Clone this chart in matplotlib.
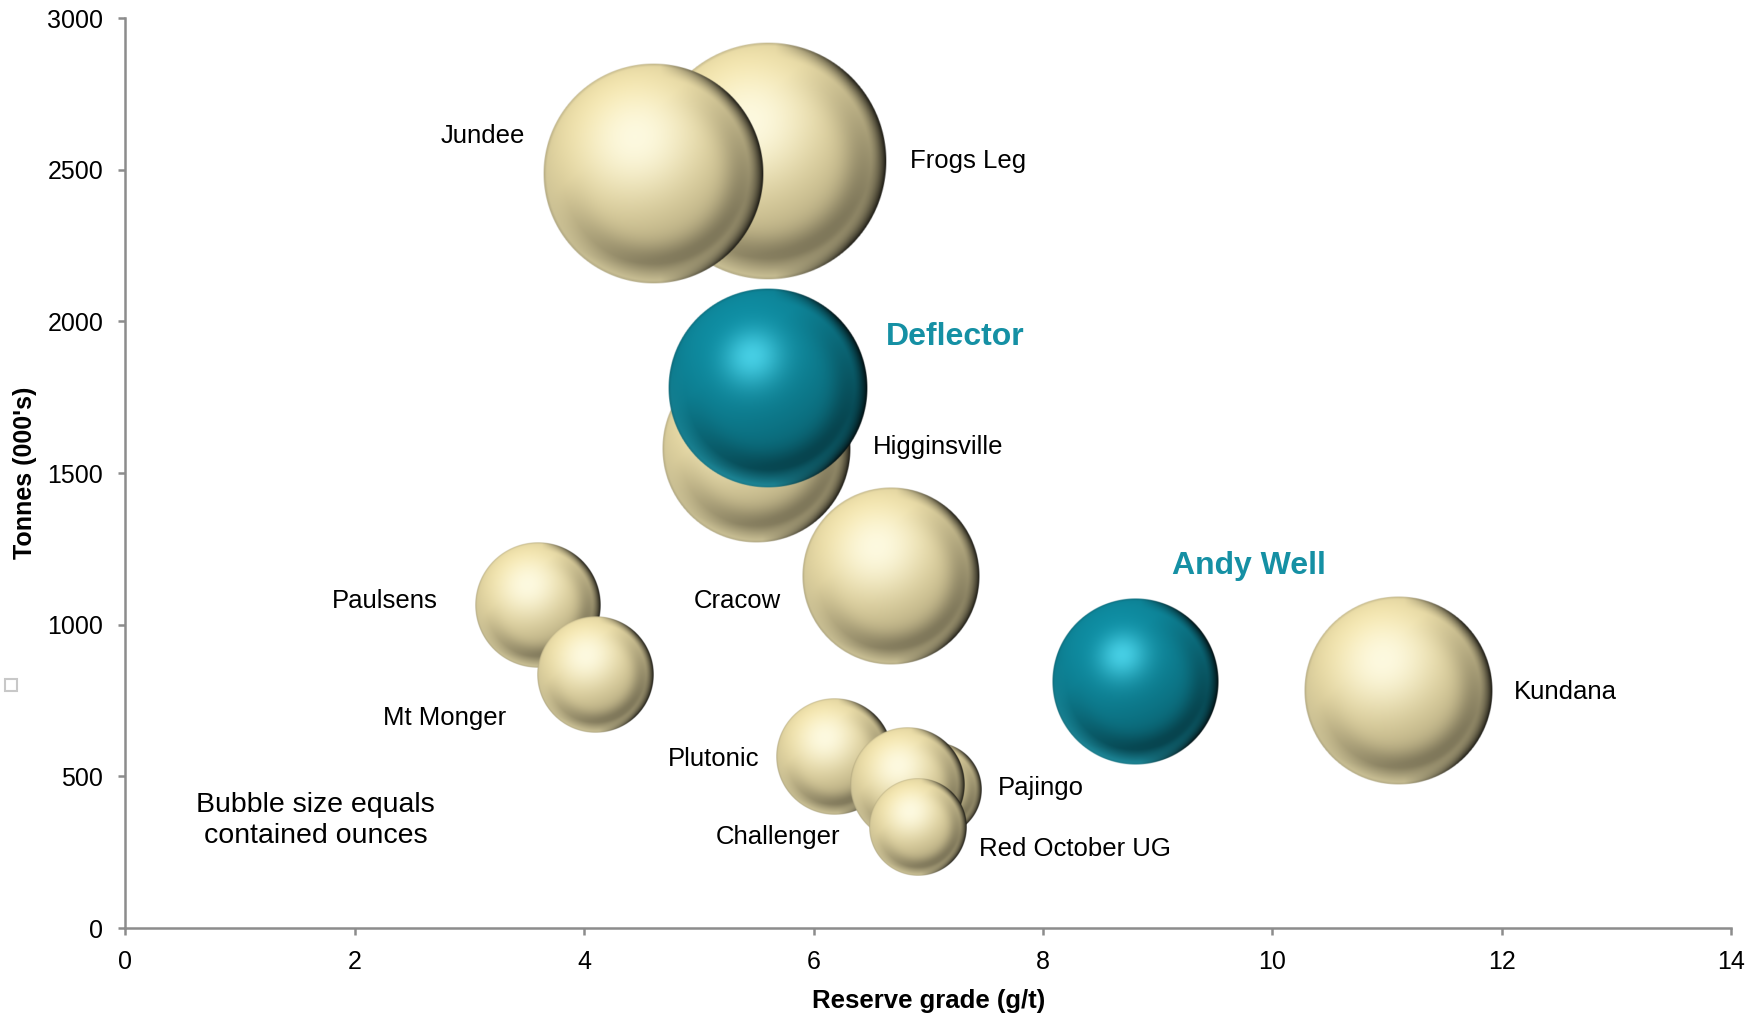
import numpy as np
import matplotlib
matplotlib.use('Agg')
import matplotlib.pyplot as plt
from matplotlib.patches import Rectangle
from matplotlib import font_manager

# ---- data ----
mines = ['Frogs Leg', 'Jundee', 'Higginsville', 'Deflector', 'Cracow', 'Paulsens',
         'Mt Monger', 'Plutonic', 'Pajingo', 'Red October UG', 'Challenger',
         'Andy Well', 'Kundana']
grade = [5.60, 4.60, 5.50, 5.60, 6.67, 3.60, 4.10, 6.18, 7.05, 6.82, 6.91, 8.80, 11.10]
tonnes = [2530, 2486, 1581, 1780, 1160, 1064, 835, 565, 454, 473, 332, 813, 783]
ounces = [455, 389, 286, 321, 253, 127, 109, 109, 71, 105, 77, 222, 286]
highlighted = ['Deflector', 'Andy Well']

x_ticks = [0, 2, 4, 6, 8, 10, 12, 14]
y_ticks = [0, 500, 1000, 1500, 2000, 2500, 3000]

# label anchors (data coords) and alignment
label_pos = {
    'Jundee': (3.48, 2612, 'right'),
    'Frogs Leg': (6.84, 2527, 'left'),
    'Deflector': (6.63, 1950, 'left'),
    'Higginsville': (6.52, 1585, 'left'),
    'Paulsens': (2.72, 1079, 'right'),
    'Cracow': (5.72, 1079, 'right'),
    'Mt Monger': (3.32, 691, 'right'),
    'Plutonic': (5.53, 558, 'right'),
    'Pajingo': (7.61, 462, 'left'),
    'Challenger': (6.23, 299, 'right'),
    'Red October UG': (7.44, 259, 'left'),
    'Andy Well': (9.13, 1193, 'left'),
    'Kundana': (12.11, 779, 'left'),
}

TEAL_TEXT = '#1590a4'
AXIS_GREY = '#8c8c8c'
R_MAX_PX = 119  # radius in pixels of the largest bubble

installed = {f.name for f in font_manager.fontManager.ttflist}
base_font = 'Liberation Sans' if 'Liberation Sans' in installed else 'DejaVu Sans'
plt.rcParams['font.family'] = [base_font, 'DejaVu Sans']


def _unit(v):
    v = np.asarray(v, dtype=float)
    return v / np.linalg.norm(v)


def sphere_image(base, light, refl, ambient, diffuse, spec_pow, spec_w, n=320):
    """RGBA image of a shaded sphere, lit from upper left"""
    u = np.linspace(-1, 1, n)
    uu, vv = np.meshgrid(u, -u)
    rr = np.sqrt(uu ** 2 + vv ** 2)
    zz = np.sqrt(np.clip(1 - rr ** 2, 0, 1))

    L = _unit([-0.3, 0.6, 0.75])
    H = _unit(L + np.array([0, 0, 1.0]))
    ndl = np.clip(uu * L[0] + vv * L[1] + zz * L[2], 0, 1)
    ndh = np.clip(uu * H[0] + vv * H[1] + zz * H[2], 0, 1)
    spec = ndh ** spec_pow

    base = np.asarray(base) / 255.0
    light = np.asarray(light) / 255.0
    refl = np.asarray(refl) / 255.0

    col = base[None, None, :] * (ambient + diffuse * ndl)[..., None]
    col = col + (light - col) * (spec_w * spec)[..., None]

    # darker ring toward the lower right
    ring = np.exp(-((rr - 0.78) / 0.16) ** 2) * np.clip(0.35 + 0.5 * uu - 0.6 * vv, 0, 1)
    col = col * (1 - 0.28 * ring)[..., None]

    # light reflected on the bottom left rim
    rim = np.clip((rr - 0.82) / 0.18, 0, 1) * np.clip(-vv - 0.3 * uu, 0, 1)
    col = col + (refl - col) * (0.55 * rim)[..., None]

    # dark band on the right rim
    edge = np.clip((rr - 0.86) / 0.14, 0, 1) ** 1.5 * np.clip(uu * 1.6 - 0.1, 0, 1)
    col = col * (1 - 0.85 * edge)[..., None]

    # faint outline
    outline = np.clip((rr - 0.97) / 0.03, 0, 1)
    col = col * (1 - 0.15 * outline)[..., None]
    col = np.clip(col, 0, 1)

    alpha = np.clip((1 - rr) * n / 2, 0, 1)
    return np.dstack([col, alpha])


cream = sphere_image((236, 222, 168), (255, 253, 232), (238, 228, 180),
                     ambient=0.74, diffuse=0.3, spec_pow=9, spec_w=0.85)
teal = sphere_image((14, 134, 154), (88, 228, 250), (50, 180, 200),
                    ambient=0.7, diffuse=0.36, spec_pow=22, spec_w=0.75)

fig = plt.figure(figsize=(17.57, 10.17), dpi=100)
ax = fig.add_axes([0.0714, 0.0875, 0.9138, 0.8948])
ax.set_xlim(0, 14)
ax.set_ylim(0, 3000)

px_per_x = ax.bbox.width / 14
px_per_y = ax.bbox.height / 3000
oz_max = max(ounces)

for idx, name in enumerate(mines):
    r_px = R_MAX_PX * np.sqrt(ounces[idx] / oz_max)
    rx = r_px / px_per_x
    ry = r_px / px_per_y
    img = teal if name in highlighted else cream
    ax.imshow(img, extent=[grade[idx] - rx, grade[idx] + rx,
                           tonnes[idx] - ry, tonnes[idx] + ry],
              aspect='auto', interpolation='bilinear', zorder=2 + idx * 0.01)

for name, (lx, ly, ha) in label_pos.items():
    if name in highlighted:
        ax.text(lx, ly, name, ha=ha, va='center', fontsize=23,
                fontweight='bold', color=TEAL_TEXT, zorder=5)
    else:
        ax.text(lx, ly, name, ha=ha, va='center', fontsize=18.5,
                color='black', zorder=5)

ax.text(1.66, 355, 'Bubble size equals\ncontained ounces', ha='center',
        va='center', fontsize=20.5, linespacing=1.25, zorder=5)

ax.set_xlim(0, 14)
ax.set_ylim(0, 3000)
ax.set_xticks(x_ticks)
ax.set_yticks(y_ticks)
for side in ['top', 'right']:
    ax.spines[side].set_visible(False)
for side in ['left', 'bottom']:
    ax.spines[side].set_color(AXIS_GREY)
    ax.spines[side].set_linewidth(1.8)
ax.tick_params(axis='both', direction='out', length=5, width=1.8,
               color=AXIS_GREY, labelsize=18, pad=11)

ax.set_xlabel('Reserve grade (g/t)', fontsize=18.5, fontweight='bold', va='center')
ax.set_ylabel("Tonnes (000's)", fontsize=18, fontweight='bold', va='center')
ax.xaxis.set_label_coords(0.5, -0.08)
ax.yaxis.set_label_coords(-0.0625, 0.5)

# small stray marker at the left edge of the original
fig.patches.append(Rectangle((5 / 1757, 1 - 691 / 1017), 12 / 1757, 12 / 1017,
                             transform=fig.transFigure, fill=False,
                             edgecolor='#c8c8c8', linewidth=1.5))

fig.savefig('out.png', dpi=100)
